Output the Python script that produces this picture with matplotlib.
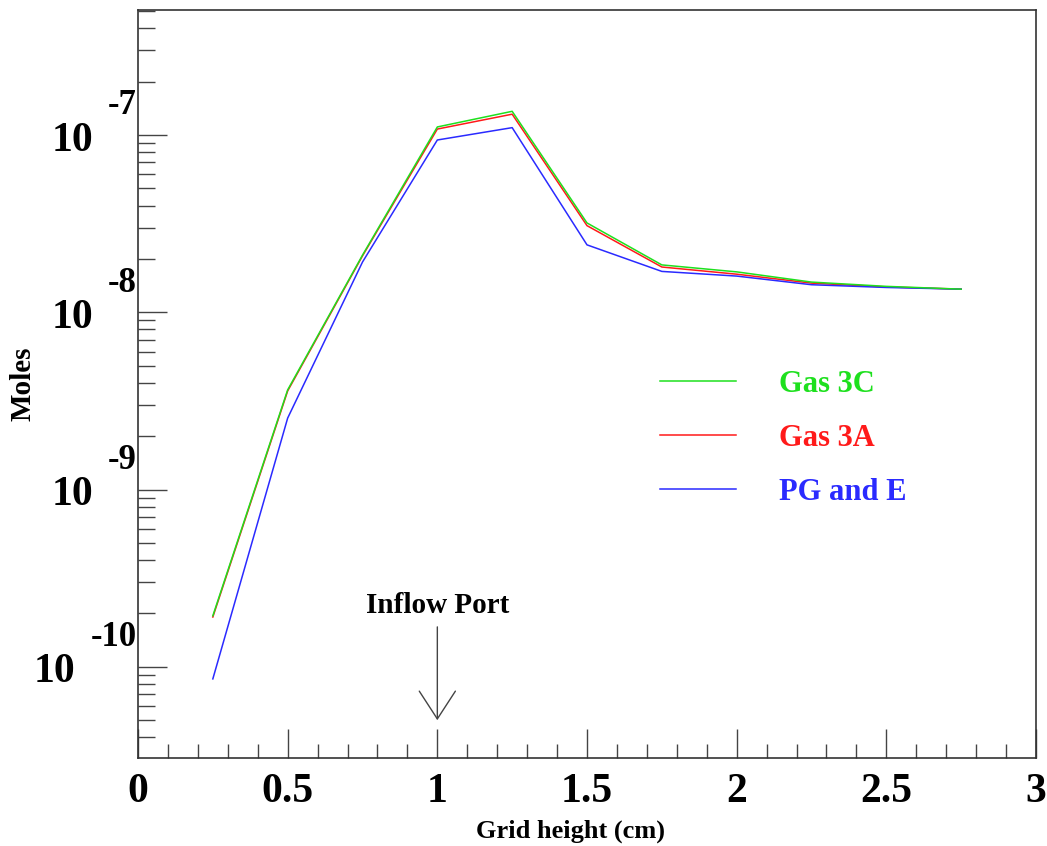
import matplotlib
matplotlib.use("Agg")
import matplotlib.pyplot as plt
from matplotlib.ticker import LogLocator, NullFormatter, MultipleLocator

# valores (mols por altura da grade)
grid_height = [0.25, 0.5, 0.75, 1.0, 1.25, 1.5, 1.75, 2.0, 2.25, 2.5, 2.75]
gas_3c = [1.94e-10, 3.65e-9, 2.10e-8, 1.11e-7, 1.36e-7, 3.19e-8, 1.85e-8, 1.69e-8, 1.48e-8, 1.40e-8, 1.35e-8]
gas_3a = [1.91e-10, 3.60e-9, 2.08e-8, 1.08e-7, 1.31e-7, 3.08e-8, 1.80e-8, 1.64e-8, 1.46e-8, 1.39e-8, 1.35e-8]
pg_and_e = [8.55e-11, 2.53e-9, 1.92e-8, 9.37e-8, 1.10e-7, 2.40e-8, 1.70e-8, 1.60e-8, 1.43e-8, 1.38e-8, 1.35e-8]
decades = [-10, -9, -8, -7]
x_ticks = [0, 0.5, 1, 1.5, 2, 2.5, 3]

plt.rcParams['font.family'] = ['Liberation Serif', 'DejaVu Serif']
plt.rcParams['font.weight'] = 'bold'

W, H = 1047, 846
fig = plt.figure(figsize=(W / 100, H / 100), dpi=100)
ax = fig.add_axes([138 / W, 1 - 758 / H, 898 / W, 748 / H])

l_3a, = ax.plot(grid_height, gas_3a, color='#ff1a1a', lw=1.1, label='Gas 3A')
l_pg, = ax.plot(grid_height, pg_and_e, color='#2a2aff', lw=1.1, label='PG and E')
l_3c, = ax.plot(grid_height, gas_3c, color='#1ee01e', lw=1.1, label='Gas 3C')

ax.set_yscale('log')
ax.set_xlim(0, 3)
ax.set_ylim(3.06e-11, 5.07e-7)

for s in ax.spines.values():
    s.set_color('#333333')
    s.set_linewidth(1.2)

ax.yaxis.set_major_locator(LogLocator(base=10, numticks=10))
ax.yaxis.set_minor_locator(LogLocator(base=10, subs=range(2, 10), numticks=20))
ax.yaxis.set_major_formatter(NullFormatter())
ax.yaxis.set_minor_formatter(NullFormatter())
ax.set_xticks(x_ticks)
ax.set_xticklabels([f'{v:g}' for v in x_ticks])
ax.xaxis.set_minor_locator(MultipleLocator(0.1))

ax.tick_params(axis='both', which='both', direction='in', color='#444444', width=1.0,
               top=False, right=False)
ax.tick_params(axis='y', which='major', length=21)
ax.tick_params(axis='y', which='minor', length=12)
ax.tick_params(axis='x', which='major', length=21, labelsize=30, pad=11)
ax.tick_params(axis='x', which='minor', length=10)

# rótulos do eixo y no estilo 10^-n
fig.canvas.draw()
renderer = fig.canvas.get_renderer()
for e in decades:
    t = ax.annotate(f'-{abs(e)}', xy=(0, 10.0 ** e), xycoords=('axes fraction', 'data'),
                    xytext=(-1, 21), textcoords='offset points',
                    ha='right', va='center', fontsize=25, fontweight='bold')
    w = t.get_window_extent(renderer).width
    ax.annotate('10', xy=(0, 10.0 ** e), xycoords=('axes fraction', 'data'),
                xytext=(-(w + 16) * 0.72, -4), textcoords='offset points',
                ha='right', va='center', fontsize=30, fontweight='bold')

fig.text(23 / W, 1 - 384 / H, 'Moles', rotation=90, ha='center', va='center',
         fontsize=21, fontweight='bold')
fig.text(571 / W, 1 - 831 / H, 'Grid height (cm)', ha='center', va='center',
         fontsize=19, fontweight='bold')

# seta da porta de entrada
ax.text(1.0, 2.22e-10, 'Inflow Port', ha='center', va='center', fontsize=21, fontweight='bold')
ax.annotate('', xy=(1.0, 5.0e-11), xytext=(1.0, 1.68e-10),
            arrowprops=dict(arrowstyle='->,head_length=1.0,head_width=0.65',
                            mutation_scale=20, color='#444444', lw=1.0,
                            shrinkA=0, shrinkB=0))

leg = ax.legend(handles=[l_3c, l_3a, l_pg], loc='upper left',
                bbox_to_anchor=((660 - 138) / 898, (758 - 370) / 748),
                frameon=False, fontsize=22, handlelength=2.5, handletextpad=1.4,
                labelspacing=0.82, borderpad=0, borderaxespad=0)
for txt, ln in zip(leg.get_texts(), [l_3c, l_3a, l_pg]):
    txt.set_color(ln.get_color())
    txt.set_fontweight('bold')

plt.savefig('out.png', dpi=100)
